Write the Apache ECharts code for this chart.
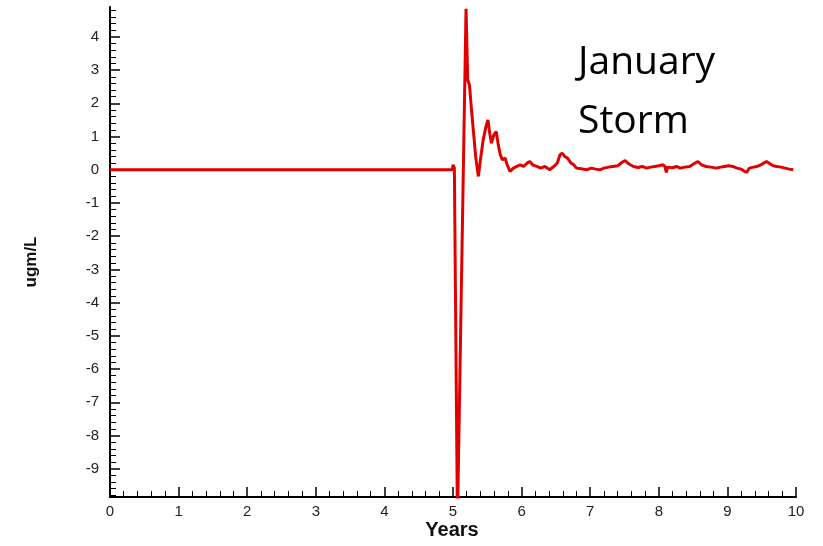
<!DOCTYPE html>
<html>
<head>
<meta charset="utf-8">
<script src="https://cdn.jsdelivr.net/npm/echarts@6/dist/echarts.min.js"></script>
<style>
html,body{margin:0;padding:0;background:#fff;}
#chart{width:823px;height:546px;}
</style>
</head>
<body>
<div id="chart"></div>
<script>
// Years (x) and concentration change in ugm/L (y)
const years = [0, 4.99, 5.00, 5.02, 5.065, 5.19, 5.215, 5.24, 5.27, 5.30, 5.33, 5.37, 5.40, 5.44, 5.48, 5.51, 5.535, 5.56, 5.595, 5.63, 5.66, 5.69, 5.72, 5.76, 5.79, 5.83, 5.88, 5.93, 5.98, 6.03, 6.08, 6.12, 6.16, 6.22, 6.28, 6.34, 6.41, 6.47, 6.52, 6.56, 6.59, 6.63, 6.67, 6.72, 6.76, 6.80, 6.87, 6.95, 7.02, 7.08, 7.14, 7.20, 7.27, 7.33, 7.40, 7.46, 7.51, 7.56, 7.63, 7.70, 7.76, 7.82, 7.88, 7.94, 8.00, 8.06, 8.09, 8.11, 8.13, 8.20, 8.26, 8.31, 8.38, 8.45, 8.51, 8.57, 8.62, 8.69, 8.76, 8.84, 8.90, 8.96, 9.02, 9.08, 9.14, 9.20, 9.25, 9.28, 9.32, 9.38, 9.43, 9.49, 9.53, 9.57, 9.62, 9.67, 9.72, 9.78, 9.84, 9.90, 9.96];
const values = [0, 0, 0.15, 0.05, -10.6, 4.85, 2.7, 2.55, 1.8, 1.1, 0.4, -0.2, 0.3, 0.9, 1.3, 1.5, 1.1, 0.8, 1.05, 1.15, 0.75, 0.45, 0.3, 0.35, 0.15, -0.05, 0.05, 0.1, 0.15, 0.1, 0.2, 0.25, 0.15, 0.1, 0.05, 0.1, 0.0, 0.1, 0.2, 0.45, 0.5, 0.4, 0.35, 0.2, 0.15, 0.05, 0.03, 0.0, 0.05, 0.02, 0.0, 0.05, 0.08, 0.1, 0.12, 0.22, 0.28, 0.18, 0.1, 0.07, 0.1, 0.05, 0.08, 0.1, 0.12, 0.15, 0.1, -0.08, 0.08, 0.06, 0.1, 0.05, 0.08, 0.1, 0.18, 0.25, 0.15, 0.1, 0.08, 0.05, 0.08, 0.1, 0.12, 0.1, 0.05, 0.02, -0.05, -0.08, 0.05, 0.08, 0.1, 0.15, 0.2, 0.25, 0.18, 0.12, 0.1, 0.08, 0.05, 0.02, 0.0];
const yMajorTicks = [-9, -8, -7, -6, -5, -4, -3, -2, -1, 0, 1, 2, 3, 4];
const yMinorStep = 0.2;
const yMin = -9.85, yMax = 4.9;

const yMinorTicks = [];
for (let v = -9.8; v <= 4.81; v += yMinorStep) {
  const r = Math.round(v * 10) / 10;
  if (Math.abs(r - Math.round(r)) > 1e-6) yMinorTicks.push(r);
}

const chart = echarts.init(document.getElementById('chart'));
const labelFont = { fontFamily: 'Liberation Sans, Arial, sans-serif', fontSize: 15, color: '#222' };
chart.setOption({
  animation: false,
  backgroundColor: '#fff',
  grid: { left: 110, right: 27, top: 7, bottom: 49 },
  xAxis: {
    type: 'value', min: 0, max: 10, interval: 1,
    axisLine: { show: true, onZero: false, lineStyle: { color: '#000', width: 2 } },
    axisTick: { show: true, inside: true, length: 10, lineStyle: { color: '#000', width: 1.5 } },
    minorTick: { show: true, splitNumber: 5, length: 6, lineStyle: { color: '#000', width: 1 } },
    splitLine: { show: false },
    axisLabel: Object.assign({ margin: 7 }, labelFont)
  },
  yAxis: [{
    type: 'value', min: yMin, max: yMax,
    axisLine: { show: true, onZero: false, lineStyle: { color: '#000', width: 2 } },
    axisTick: { show: true, inside: true, length: 10, customValues: yMajorTicks, lineStyle: { color: '#000', width: 1.5 } },
    splitLine: { show: false },
    axisLabel: Object.assign({ margin: 11, customValues: yMajorTicks }, labelFont)
  }, {
    type: 'value', min: yMin, max: yMax, position: 'left',
    axisLine: { show: false },
    axisTick: { show: true, inside: true, length: 6, customValues: yMinorTicks, lineStyle: { color: '#000', width: 1 } },
    splitLine: { show: false },
    axisLabel: { show: false }
  }],
  graphic: [
    { type: 'text', left: 578, top: 33, style: { text: 'January\nStorm', font: '39px "Open Sans", sans-serif', lineHeight: 59, fill: '#000' } },
    { type: 'text', x: 452, y: 530, style: { text: 'Years', font: 'bold 20px "Liberation Sans", Arial, sans-serif', fill: '#111', align: 'center', verticalAlign: 'middle' } },
    { type: 'text', x: 31, y: 262, rotation: Math.PI / 2, style: { text: 'ugm/L', font: 'bold 17px "Liberation Sans", Arial, sans-serif', fill: '#111', align: 'center', verticalAlign: 'middle' } }
  ],
  series: [{
    type: 'line',
    yAxisIndex: 0,
    data: years.map((x, i) => [x, values[i]]),
    showSymbol: false,
    clip: true,
    lineStyle: { color: '#e00000', width: 3 },
    z: 5
  }]
});
</script>
</body>
</html>
